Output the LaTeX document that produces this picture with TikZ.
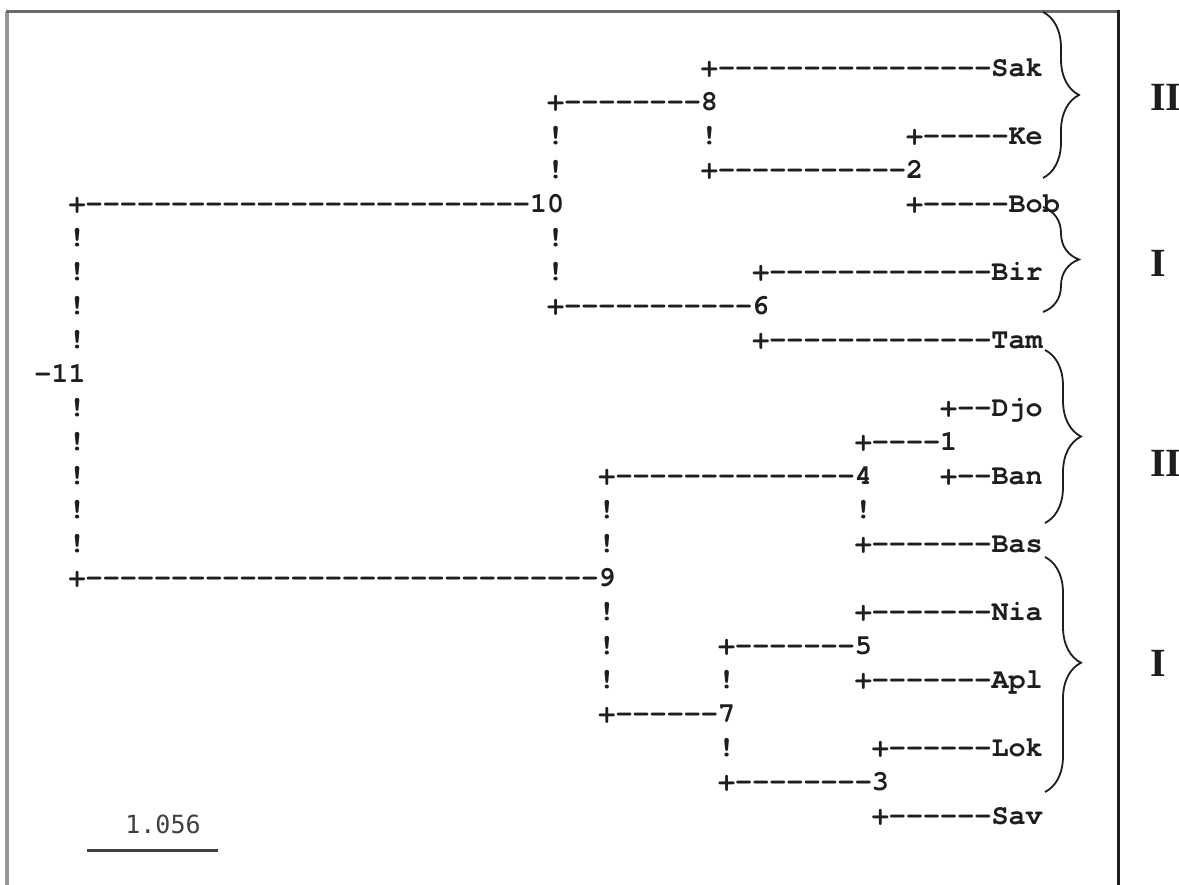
\documentclass[tikz,border=0pt]{standalone}
\usepackage{fontspec}
\setmonofont{TeX Gyre Cursor}
\newfontfamily\romfont{Liberation Serif}
\newfontfamily\barfont{DejaVu Sans Mono}
\usetikzlibrary{decorations.pathreplacing}
\definecolor{ink}{HTML}{1E1E1E}
\definecolor{framegray}{HTML}{6A6A6A}
\ExplSyntaxOn
\cs_new:Npn \hy #1 { \prg_replicate:nn {#1} {-} }
\ExplSyntaxOff
\tikzset{
  asc/.style={anchor=west, inner sep=0pt, text height=0.66em, text depth=0.1em,
    font=\fontsize{28.48}{30}\selectfont\ttfamily\bfseries, text=ink},
  grp/.style={decorate, decoration={brace, amplitude=36pt}, line width=1.8pt, draw=ink},
  roman/.style={anchor=west, inner sep=0pt, font=\fontsize{40}{40}\selectfont\romfont\bfseries, text=ink},
}
\newcommand\rw[4]{\node[asc] (#4) at ({68.45+17.09*(#2)},{74+34*(#1-1)}) {#3};}
\begin{document}
\begin{tikzpicture}[x=1pt,y=-1pt]
\useasboundingbox (0,0) rectangle (1179,885);
\fill[white] (0,0) rectangle (1179,885);
% frame
\draw[line width=3.5pt, framegray!70] (7,885) -- (7,12);
\draw[line width=3pt, framegray] (5.5,12) -- (1118,12);
\draw[line width=3pt, ink] (1118,10.5) -- (1118,885);
% dendrogram rows
\rw{1}{37}{+\hy{16}Sak}{sak}
\rw{2}{28}{+\hy{8}8}{c8}
\rw{3}{28}{!}{v3a} \rw{3}{37}{!}{v3b} \rw{3}{49}{+\hy{5}Ke}{ke}
\rw{4}{28}{!}{v4a} \rw{4}{37}{+\hy{11}2}{c2}
\rw{5}{0}{+\hy{26}10}{c10} \rw{5}{49}{+\hy{5}Bob}{bob}
\rw{6}{0}{!}{v6a} \rw{6}{28}{!}{v6b}
\rw{7}{0}{!}{v7a} \rw{7}{28}{!}{v7b} \rw{7}{40}{+\hy{13}Bir}{bir}
\rw{8}{0}{!}{v8a} \rw{8}{28}{+\hy{11}6}{c6}
\rw{9}{0}{!}{v9a} \rw{9}{40}{+\hy{13}Tam}{tam}
\rw{10}{-2}{-11}{c11}
\rw{11}{0}{!}{v11a} \rw{11}{51}{+\hy{2}Djo}{djo}
\rw{12}{0}{!}{v12a} \rw{12}{46}{+\hy{4}1}{c1}
\rw{13}{0}{!}{v13a} \rw{13}{31}{+\hy{14}4}{c4} \rw{13}{51}{+\hy{2}Ban}{ban}
\rw{14}{0}{!}{v14a} \rw{14}{31}{!}{v14b} \rw{14}{46}{!}{v14c}
\rw{15}{0}{!}{v15a} \rw{15}{31}{!}{v15b} \rw{15}{46}{+\hy{7}Bas}{bas}
\rw{16}{0}{+\hy{30}9}{c9}
\rw{17}{31}{!}{v17a} \rw{17}{46}{+\hy{7}Nia}{nia}
\rw{18}{31}{!}{v18a} \rw{18}{38}{+\hy{7}5}{c5}
\rw{19}{31}{!}{v19a} \rw{19}{38}{!}{v19b} \rw{19}{46}{+\hy{7}Apl}{apl}
\rw{20}{31}{+\hy{6}7}{c7}
\rw{21}{38}{!}{v21a} \rw{21}{47}{+\hy{6}Lok}{lok}
\rw{22}{38}{+\hy{8}3}{c3}
\rw{23}{47}{+\hy{6}Sav}{sav}
% braces
\draw[grp] (1043,12) -- (1043,178);
\draw[grp] (1043,207) -- (1043,312);
\draw[grp] (1045,350) -- (1045,523);
\draw[grp, decoration={brace, amplitude=36pt, aspect=0.45}] (1045,557) -- (1045,792);
% group labels
\node[roman] (g1) at (1150,97) {II};
\node[roman] (g2) at (1150,263) {I};
\node[roman] (g3) at (1150,463) {II};
\node[roman] (g4) at (1150,663) {I};
% scale bar
\node[font=\fontsize{25}{25}\selectfont\barfont, text=ink!85, inner sep=0pt] (sc) at (163,824) {1.056};
\draw[line width=3pt, ink!85] (87,850) -- (218,850);
\end{tikzpicture}
\end{document}
